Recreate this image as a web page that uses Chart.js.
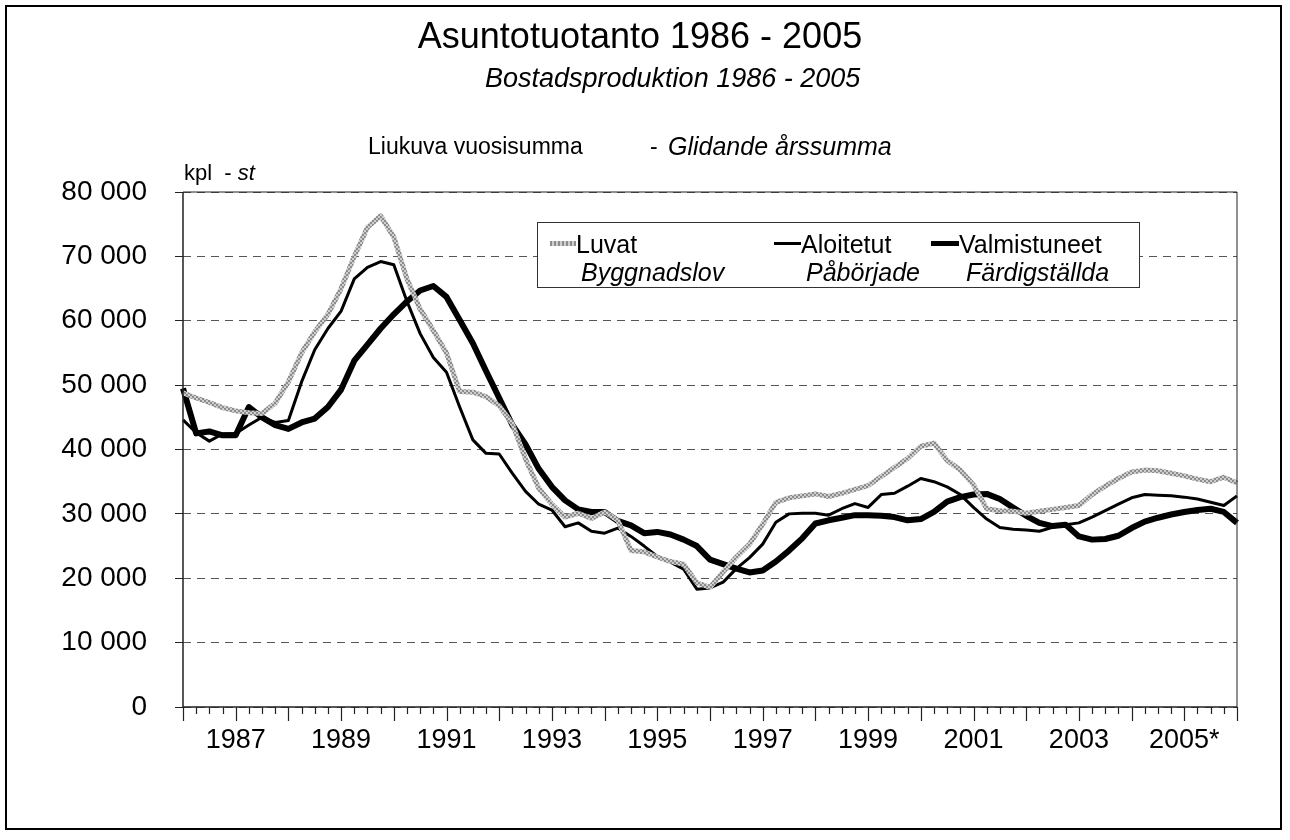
<!DOCTYPE html>
<html>
<head>
<meta charset="utf-8">
<script src="https://cdn.jsdelivr.net/npm/chart.js@4.4.1/dist/chart.umd.min.js"></script>
<style>
  body { margin: 0; background: #fff; font-family: "Liberation Sans", Arial, sans-serif; }
  #wrap { position: relative; width: 1290px; height: 840px; overflow: hidden; }
  #frame { position: absolute; left: 5px; top: 5px; width: 1277px; height: 825px; border: 2px solid #000; box-sizing: border-box; }
  canvas { position: absolute; left: 0; top: 0; }
  .t { position: absolute; white-space: pre; color: #000; line-height: 1; }
  #legend { position: absolute; left: 537px; top: 222px; width: 603px; height: 66px; border: 1px solid #333; box-sizing: border-box; background: #fff; }
  #legend .t { font-size: 25px; }
  .sym { position: absolute; }
</style>
</head>
<body>
<div id="wrap">
  <canvas id="chart" width="1290" height="840"></canvas>
  <div id="frame"></div>
  <div class="t" style="left:0;width:1280px;text-align:center;top:18px;font-size:36px">Asuntotuotanto 1986 - 2005</div>
  <div class="t" style="left:485px;top:65px;font-size:27px;font-style:italic">Bostadsproduktion 1986 - 2005</div>
  <div class="t" style="left:368px;top:135px;font-size:23px">Liukuva vuosisumma</div>
  <div class="t" style="left:650px;top:135px;font-size:23px">-</div>
  <div class="t" style="left:668px;top:134px;font-size:25px;font-style:italic">Glidande årssumma</div>
  <div class="t" style="left:184px;top:162px;font-size:22px">kpl  - <i>st</i></div>
  <div id="legend">
    <div class="sym" style="left:12px;top:18px;width:26px;height:5px;background:repeating-linear-gradient(90deg,#8c8c8c 0 2px,#cfcfcf 2px 4px)"></div>
    <div class="t" style="left:38px;top:9px">Luvat</div>
    <div class="t" style="left:43px;top:37px;font-style:italic">Byggnadslov</div>
    <div class="sym" style="left:236px;top:19px;width:27px;height:3px;background:#000"></div>
    <div class="t" style="left:263px;top:9px">Aloitetut</div>
    <div class="t" style="left:268px;top:37px;font-style:italic">Påbörjade</div>
    <div class="sym" style="left:393px;top:18px;width:28px;height:5px;background:#000"></div>
    <div class="t" style="left:421px;top:9px">Valmistuneet</div>
    <div class="t" style="left:428px;top:37px;font-style:italic">Färdigställda</div>
  </div>
</div>
<script>
// rolling annual sums, one value per quarter
const quarterLabels = [
  '', '', '', '', '1987', '', '', '',
  '', '', '', '', '1989', '', '', '',
  '', '', '', '', '1991', '', '', '',
  '', '', '', '', '1993', '', '', '',
  '', '', '', '', '1995', '', '', '',
  '', '', '', '', '1997', '', '', '',
  '', '', '', '', '1999', '', '', '',
  '', '', '', '', '2001', '', '', '',
  '', '', '', '', '2003', '', '', '',
  '', '', '', '', '2005*', '', '', '',
  ''
];

const luvat = [
  48800, 48000, 47300, 46500, 46000, 45700, 45600, 47200,
  50500, 55000, 58300, 61000, 65000, 70000, 74500, 76300,
  73000, 66500, 61800, 58500, 55000, 49000, 48900, 48200,
  46800, 44000, 38500, 34000, 31500, 29500, 30100, 29300,
  30300, 29000, 24300, 24100, 23300, 22600, 22200, 19300,
  18600, 21000, 23300, 25300, 28400, 31800, 32500, 32800,
  33100, 32700, 33200, 33800, 34400, 35800, 37200, 38600,
  40500, 41000, 38300, 36800, 34500, 30800, 30500, 30400,
  30100, 30400, 30700, 31000, 31300, 33000, 34300, 35500,
  36500, 36800, 36700, 36300, 35900, 35400, 35000, 35700,
  34800
];

const aloitetut = [
  44600, 42600, 41300, 42400, 42500, 43800, 45000, 44200,
  44500, 50500, 55500, 58800, 61500, 66500, 68300, 69200,
  68700, 63000, 58000, 54300, 52000, 46600, 41500, 39400,
  39300, 36300, 33500, 31500, 30600, 28000, 28600, 27300,
  27000, 27800, 26500, 25000, 23400, 22500, 21400, 18300,
  18500, 19400, 21500, 23200, 25300, 28700, 30000, 30100,
  30100, 29800, 30800, 31600, 31000, 33000, 33200, 34300,
  35500, 35000, 34200, 33000, 31000, 29200, 27900, 27600,
  27500, 27300, 27900, 28300, 28600, 29500, 30500, 31500,
  32500, 33000, 32900, 32800, 32600, 32300, 31800, 31300,
  32800
];

const valmistuneet = [
  49500, 42500, 42800, 42200, 42200, 46600, 45000, 43800,
  43200, 44200, 44800, 46600, 49300, 53800, 56300, 58800,
  61000, 63000, 64700, 65400, 63700, 60100, 56500, 52200,
  48000, 43800, 40800, 37000, 34200, 32100, 30700, 30300,
  30300, 28900, 28200, 27000, 27200, 26800, 26000, 25000,
  22900, 22200, 21500, 20900, 21200, 22600, 24300, 26200,
  28500, 29000, 29400, 29800, 29800, 29700, 29500, 29000,
  29200, 30300, 31900, 32600, 33000, 33100, 32300, 31000,
  29700, 28600, 28100, 28300, 26500, 26000, 26100, 26600,
  27800, 28800, 29400, 29900, 30300, 30600, 30800, 30300,
  28600
];

const FONT = '"Liberation Sans", Arial, sans-serif';
const canvas = document.getElementById('chart');
const ctx = canvas.getContext('2d');

// speckled grey stroke for the permits line
const pc = document.createElement('canvas');
pc.width = 4; pc.height = 4;
const p = pc.getContext('2d');
p.fillStyle = '#cfcfcf'; p.fillRect(0, 0, 4, 4);
p.fillStyle = '#8c8c8c'; p.fillRect(0, 0, 2, 2); p.fillRect(2, 2, 2, 2);
const luvatPattern = ctx.createPattern(pc, 'repeat');

// plot frame + quarterly / yearly tick marks on the x axis
const frameAndTicks = {
  id: 'frameAndTicks',
  afterDraw(chart) {
    const { ctx, chartArea: a, scales: { x } } = chart;
    ctx.save();
    ctx.strokeStyle = '#222';
    ctx.lineWidth = 1;
    ctx.beginPath();
    ctx.moveTo(a.left, a.top); ctx.lineTo(a.right, a.top); ctx.lineTo(a.right, a.bottom);
    ctx.stroke();
    ctx.lineWidth = 1.5;
    ctx.beginPath();
    ctx.moveTo(a.left, a.top); ctx.lineTo(a.left, a.bottom); ctx.lineTo(a.right, a.bottom);
    ctx.stroke();
    ctx.lineWidth = 1.2;
    ctx.beginPath();
    quarterLabels.forEach((_, i) => {
      const px = Math.round(x.getPixelForValue(i)) + 0.5;
      ctx.moveTo(px, a.bottom);
      ctx.lineTo(px, a.bottom + (i % 4 === 0 ? 14 : 7));
    });
    ctx.stroke();
    ctx.restore();
  }
};

new Chart(ctx, {
  type: 'line',
  data: {
    labels: quarterLabels,
    datasets: [
      { label: 'Luvat', data: luvat, borderColor: luvatPattern, borderWidth: 5 },
      { label: 'Aloitetut', data: aloitetut, borderColor: '#000', borderWidth: 3 },
      { label: 'Valmistuneet', data: valmistuneet, borderColor: '#000', borderWidth: 6 }
    ]
  },
  options: {
    responsive: false,
    animation: false,
    events: [],
    layout: { padding: { top: 192, right: 53, bottom: 0, left: 0 } },
    elements: {
      point: { radius: 0 },
      line: { tension: 0, borderJoinStyle: 'round', borderCapStyle: 'butt' }
    },
    plugins: { legend: { display: false }, tooltip: { enabled: false } },
    scales: {
      x: {
        type: 'category',
        offset: false,
        grid: { display: false, drawTicks: false },
        border: { display: false },
        ticks: {
          autoSkip: false, maxRotation: 0, minRotation: 0, padding: 17,
          color: '#000', font: { family: FONT, size: 27 }
        },
        afterFit(s) { s.height = 133; }
      },
      y: {
        min: 0, max: 80000,
        grid: { color: '#555', lineWidth: 1, tickLength: 8, tickColor: '#222', tickBorderDash: [] },
        border: { display: false, dash: [8, 6] },
        ticks: {
          stepSize: 10000, padding: 28, color: '#000',
          font: { family: FONT, size: 28 },
          callback: v => v === 0 ? '0' : (v / 1000) + ' 000'
        },
        afterFit(s) { s.width = 183; }
      }
    }
  },
  plugins: [frameAndTicks]
});
</script>
</body>
</html>
